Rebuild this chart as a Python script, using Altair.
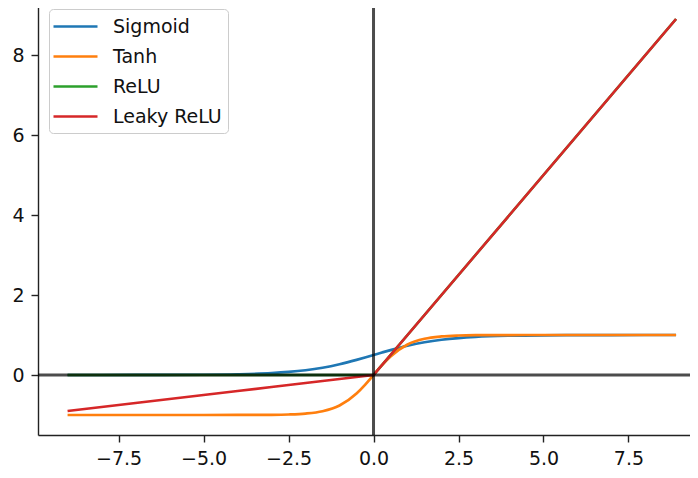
import altair as alt
import pandas as pd

x_vals = [-9, -7, -5, -4, -3, -2.5, -2, -1.5, -1, -0.5, -0.25, 0, 0.25, 0.5, 1, 1.5, 2, 2.5, 3, 4, 5, 7, 8.9]
sigmoid = [0.0001, 0.0009, 0.0067, 0.018, 0.047, 0.076, 0.119, 0.182, 0.269, 0.378, 0.438, 0.5,
           0.562, 0.622, 0.731, 0.818, 0.881, 0.924, 0.953, 0.982, 0.993, 0.999, 1.0]
tanh = [-1.0, -1.0, -1.0, -0.999, -0.995, -0.987, -0.964, -0.905, -0.762, -0.462, -0.245, 0.0,
        0.245, 0.462, 0.762, 0.905, 0.964, 0.987, 0.995, 0.999, 1.0, 1.0, 1.0]
relu = [0, 0, 0, 0, 0, 0, 0, 0, 0, 0, 0, 0, 0.25, 0.5, 1, 1.5, 2, 2.5, 3, 4, 5, 7, 8.9]
leaky = [-0.9, -0.7, -0.5, -0.4, -0.3, -0.25, -0.2, -0.15, -0.1, -0.05, -0.025, 0,
         0.25, 0.5, 1, 1.5, 2, 2.5, 3, 4, 5, 7, 8.9]

names = ["Sigmoid", "Tanh", "ReLU", "Leaky ReLU"]
colors = ["#1f77b4", "#ff7f0e", "#2ca02c", "#d62728"]
x_ticks = [-7.5, -5.0, -2.5, 0.0, 2.5, 5.0, 7.5]
y_ticks = [0, 2, 4, 6, 8]

series = {"Sigmoid": sigmoid, "Tanh": tanh, "ReLU": relu, "Leaky ReLU": leaky}
rows = []
for n in names:
    for xv, yv in zip(x_vals, series[n]):
        rows.append({"x": xv, "y": yv, "name": n})
df = pd.DataFrame(rows)

FONT = "DejaVu Sans"
xscale = alt.Scale(domain=[-9.87, 9.31], nice=False, zero=False)
yscale = alt.Scale(domain=[-1.5, 9.375], nice=False, zero=False)
cscale = alt.Scale(domain=names, range=colors)

common = dict(title=None, grid=False, tickSize=7, tickWidth=1.4, domainWidth=1.4,
              labelPadding=7, domainColor="#222222", tickColor="#222222",
              labelColor="#111111", labelFontSize=19, labelFont=FONT)
xaxis = alt.Axis(values=x_ticks, format=".1f", **common)
yaxis = alt.Axis(values=y_ticks, format="d", **common)
legend = alt.Legend(orient="none", legendX=11, legendY=9,
                    symbolType="M-2.2,0L2.2,0", symbolSize=400, symbolOffset=9,
                    symbolStrokeWidth=2.7, symbolFillColor="transparent",
                    labelFontSize=19, labelFont=FONT, labelColor="#111111",
                    labelOffset=26, rowPadding=8,
                    padding=6, fillColor="rgba(255,255,255,0.8)",
                    strokeColor="#cccccc", cornerRadius=4)

base = alt.Chart(df)
layers = []
for n in names:
    interp = "monotone" if n in ("Sigmoid", "Tanh") else "linear"
    layers.append(base.transform_filter(alt.datum.name == n)
                  .mark_line(strokeWidth=2.7, interpolate=interp)
                  .encode(x=alt.X("x:Q", scale=xscale, axis=xaxis),
                          y=alt.Y("y:Q", scale=yscale, axis=yaxis),
                          color=alt.Color("name:N", scale=cscale, title=None, legend=legend)))

zero = pd.DataFrame({"v": [0]})
hline = alt.Chart(zero).mark_rule(color="black", strokeWidth=3, opacity=0.7).encode(
    y=alt.Y("v:Q", scale=yscale, axis=yaxis))
vline = alt.Chart(zero).mark_rule(color="black", strokeWidth=3, opacity=0.7).encode(
    x=alt.X("v:Q", scale=xscale, axis=xaxis))

chart = alt.layer(*layers, hline, vline).properties(
    width=652, height=435,
    autosize=alt.AutoSizeParams(type="none"),
    padding={"left": 30, "top": -8, "right": 0, "bottom": 35},
).configure_view(stroke=None)

chart.save("out.html", embed_options={"renderer": "svg", "actions": False})
